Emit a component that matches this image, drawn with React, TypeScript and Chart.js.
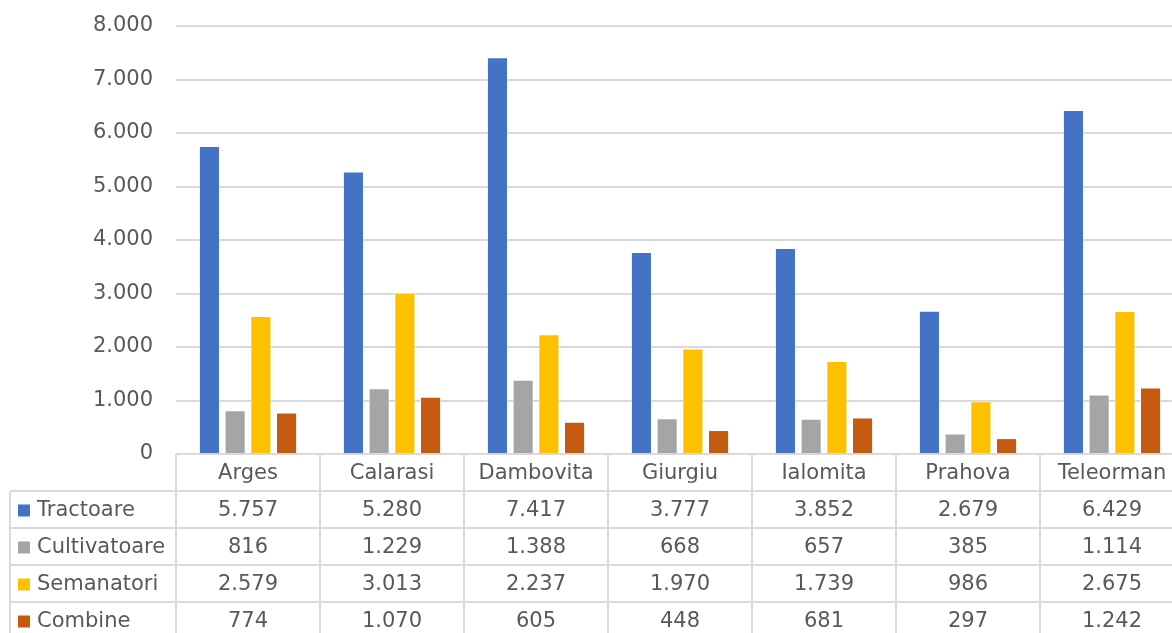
import React, { useEffect, useRef } from "react";
import { Chart, registerables } from "chart.js";

Chart.register(...registerables);

const categories = ["Arges", "Calarasi", "Dambovita", "Giurgiu", "Ialomita", "Prahova", "Teleorman"];
const tractoare = [5757, 5280, 7417, 3777, 3852, 2679, 6429];
const cultivatoare = [816, 1229, 1388, 668, 657, 385, 1114];
const semanatori = [2579, 3013, 2237, 1970, 1739, 986, 2675];
const combine = [774, 1070, 605, 448, 681, 297, 1242];
const seriesNames = ["Tractoare", "Cultivatoare", "Semanatori", "Combine"];
const seriesColors = ["#4472C4", "#A5A5A5", "#FFC000", "#C55A11"];
const yTicks = [0, 1000, 2000, 3000, 4000, 5000, 6000, 7000, 8000];

const FONT = "'DejaVu Sans', sans-serif";
const TEXT = "#595959";
const LINE = "#D9D9D9";

const fmt = (n: number) => String(Math.round(n)).replace(/\B(?=(\d{3})+(?!\d))/g, ".");

const tablePlugin = {
  id: "dataTable",
  afterDraw(chart: any) {
    const ctx = chart.ctx;
    const area = chart.chartArea;
    const xs = chart.scales.x;
    const n = categories.length;
    const colW = (area.right - area.left) / n;
    const headerH = 37;
    const rowH = 37;
    const top = area.bottom;
    const legendLeft = 10;
    const rows = chart.data.datasets.length;
    const bottom = top + headerH + rowH * rows;
    ctx.save();
    ctx.strokeStyle = LINE;
    ctx.lineWidth = 2;
    for (let i = 0; i <= n; i++) {
      const x = area.left + colW * i;
      ctx.beginPath();
      ctx.moveTo(x, top);
      ctx.lineTo(x, bottom);
      ctx.stroke();
    }
    ctx.beginPath();
    ctx.moveTo(legendLeft, top + headerH);
    ctx.lineTo(legendLeft, bottom);
    ctx.stroke();
    for (let r = 0; r <= rows; r++) {
      const y = top + headerH + rowH * r;
      ctx.beginPath();
      ctx.moveTo(legendLeft, y);
      ctx.lineTo(area.right, y);
      ctx.stroke();
    }
    ctx.fillStyle = TEXT;
    ctx.font = `21px ${FONT}`;
    ctx.textAlign = "center";
    ctx.textBaseline = "middle";
    categories.forEach((c, i) => {
      const cx = xs.getPixelForValue(i);
      ctx.fillText(c, cx, top + headerH / 2 + 1);
    });
    chart.data.datasets.forEach((ds: any, r: number) => {
      const cy = top + headerH + rowH * r + rowH / 2 + 1;
      ctx.fillStyle = ds.backgroundColor;
      ctx.fillRect(18, cy - 6, 12, 12);
      ctx.fillStyle = TEXT;
      ctx.textAlign = "left";
      ctx.fillText(ds.label, 37, cy);
      ctx.textAlign = "center";
      ds.data.forEach((v: number, i: number) => {
        ctx.fillText(fmt(v), xs.getPixelForValue(i), cy);
      });
    });
    ctx.restore();
  },
};

export default function App() {
  const ref = useRef<HTMLCanvasElement | null>(null);
  useEffect(() => {
    if (!ref.current) return;
    const data = [tractoare, cultivatoare, semanatori, combine];
    const chart = new Chart(ref.current, {
      type: "bar",
      data: {
        labels: categories,
        datasets: seriesNames.map((name, i) => ({
          label: name,
          data: data[i],
          backgroundColor: seriesColors[i],
          borderColor: "rgba(255,255,255,0.5)",
          borderWidth: 1,
          categoryPercentage: 0.714,
          barPercentage: 0.82,
        })),
      },
      options: {
        animation: false,
        responsive: true,
        maintainAspectRatio: false,
        layout: { padding: { top: 26, bottom: 179, left: 0, right: 6 } },
        plugins: { legend: { display: false }, tooltip: { enabled: false } },
        scales: {
          x: { display: false },
          y: {
            min: 0,
            max: 8000,
            afterFit: (s: any) => {
              s.width = 176;
              s.paddingTop = 0;
              s.paddingBottom = 0;
            },
            afterBuildTicks: (s: any) => {
              s.ticks = yTicks.map((v) => ({ value: v }));
            },
            border: { display: false },
            grid: { color: LINE, lineWidth: 2, drawTicks: false },
            ticks: {
              padding: 23,
              color: TEXT,
              font: { family: FONT, size: 21 },
              callback: (v: any) => fmt(Number(v)),
            },
          },
        },
      },
      plugins: [tablePlugin],
    });
    return () => chart.destroy();
  }, []);
  return (
    <div style={{ position: "fixed", left: 0, top: 0, width: "100vw", height: "100vh", overflow: "hidden", background: "#fff" }}>
      <div style={{ position: "absolute", left: 0, top: 0, width: 1190, height: 633 }}>
        <canvas ref={ref} />
      </div>
    </div>
  );
}
